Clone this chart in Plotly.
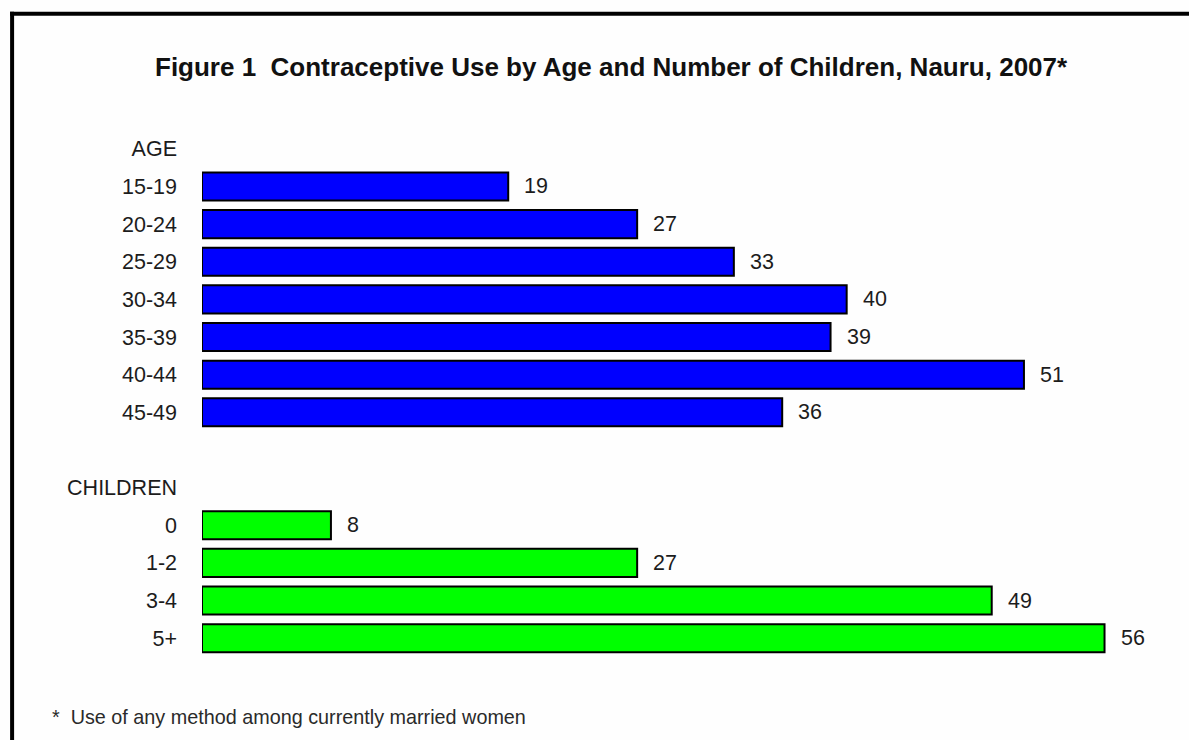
import plotly.graph_objects as go

# ---- data ----
age_groups = ["15-19", "20-24", "25-29", "30-34", "35-39", "40-44", "45-49"]
age_values = [19, 27, 33, 40, 39, 51, 36]
child_groups = ["0", "1-2", "3-4", "5+"]
child_values = [8, 27, 49, 56]
category_order = ["AGE"] + age_groups + [" ", "CHILDREN"] + child_groups

title_text = "Figure 1  Contraceptive Use by Age and Number of Children, Nauru, 2007*"
footnote_text = "*  Use of any method among currently married women"

# ---- layout geometry (pixels) ----
FW, FH = 1189, 740
ML, MR, MT, MB = 202, 19.5, 130.2, 83.4
PW = FW - ML - MR
PH = FH - MT - MB


def px2x(px):
    return (px - ML) / PW


def py2y(py):
    return (FH - MB - py) / PH


text_color = "#1c1c1c"
font_family = "Liberation Sans, Arial, sans-serif"

fig = go.Figure()
fig.add_trace(go.Bar(
    x=age_values, y=age_groups, orientation="h",
    marker=dict(color="#0000FF", line=dict(color="#000000", width=2)),
    hoverinfo="x+y", showlegend=False,
))
fig.add_trace(go.Bar(
    x=child_values, y=child_groups, orientation="h",
    marker=dict(color="#00FF00", line=dict(color="#000000", width=2)),
    hoverinfo="x+y", showlegend=False,
))

annotations = []
for cats, vals in ((age_groups, age_values), (child_groups, child_values)):
    for c, v in zip(cats, vals):
        annotations.append(dict(
            x=v, y=category_order.index(c), xref="x", yref="y", text=str(v), showarrow=False,
            xanchor="left", yanchor="middle", xshift=14,
            font=dict(size=21.5, color=text_color, family=font_family),
        ))

annotations.append(dict(
    x=px2x(612), y=py2y(67), xref="paper", yref="paper", text="<b>" + title_text + "</b>",
    showarrow=False, xanchor="center", yanchor="middle",
    font=dict(size=26, color="#111111", family=font_family),
))
annotations.append(dict(
    x=px2x(50), y=py2y(717), xref="paper", yref="paper", text=footnote_text,
    showarrow=False, xanchor="left", yanchor="middle",
    font=dict(size=19.8, color="#2a2a2a", family=font_family),
))

shapes = [
    dict(type="line", xref="paper", yref="paper",
         x0=px2x(10), x1=px2x(1195), y0=py2y(14), y1=py2y(14),
         line=dict(color="#000000", width=4)),
    dict(type="line", xref="paper", yref="paper",
         x0=px2x(12), x1=px2x(12), y0=py2y(12), y1=py2y(745),
         line=dict(color="#000000", width=4)),
]

fig.update_layout(
    width=FW, height=FH,
    margin=dict(l=ML, r=MR, t=MT, b=MB, pad=0),
    paper_bgcolor="#FEFEFE", plot_bgcolor="#FEFEFE",
    barmode="overlay", bargap=0.255,
    font=dict(family=font_family, color=text_color, size=21.5),
    xaxis=dict(range=[0, 60], visible=False, fixedrange=True),
    yaxis=dict(
        type="category", categoryorder="array", categoryarray=category_order,
        range=[len(category_order) - 0.5, -0.5],
        showgrid=False, zeroline=False, showline=False, ticks="",
        ticklabelstandoff=24,
        tickfont=dict(size=21.5, color=text_color, family=font_family),
        fixedrange=True,
    ),
    annotations=annotations,
    shapes=shapes,
    showlegend=False,
)

fig.write_html("out.html")
